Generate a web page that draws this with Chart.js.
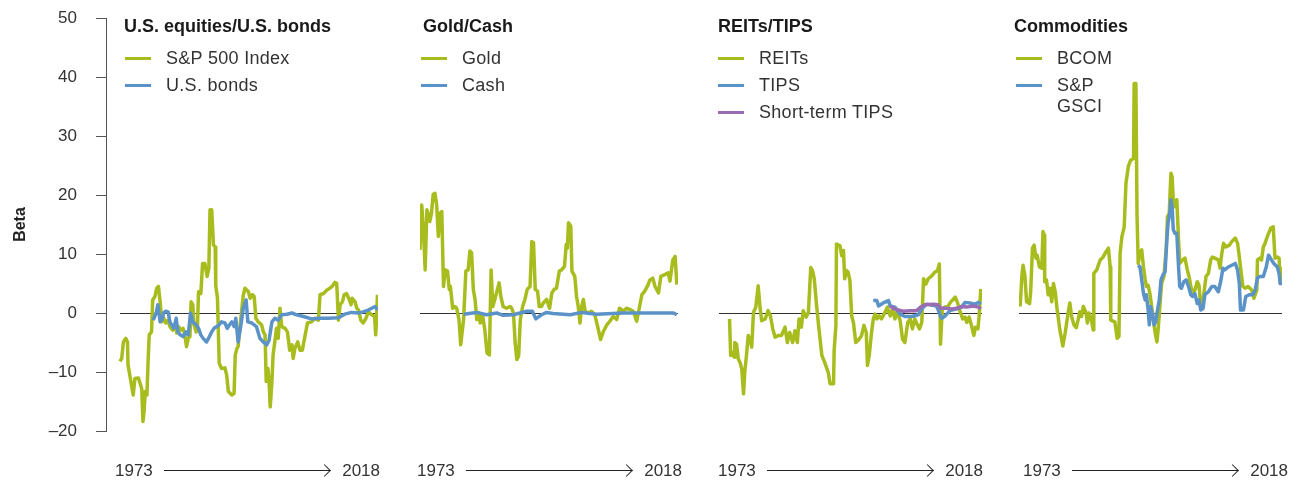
<!DOCTYPE html>
<html>
<head>
<meta charset="utf-8">
<script src="https://cdn.jsdelivr.net/npm/chart.js@4.4.0/dist/chart.umd.min.js"></script>
<style>
  body { margin: 0; width: 1299px; height: 480px; background: #fff; position: relative; overflow: hidden;
         font-family: "Liberation Sans", Arial, sans-serif; color: #333; }
  canvas { position: absolute; top: 0; }
  .title { position: absolute; top: 16px; font-size: 18px; line-height: 21px; font-weight: bold; color: #1a1a1a; }
  .legend { position: absolute; top: 48px; font-size: 18px; line-height: 21px; letter-spacing: 0.3px; }
  .legend-row { display: flex; align-items: flex-start; margin-bottom: 6px; }
  .swatch { width: 26px; height: 3px; margin-top: 9px; margin-right: 15px; flex: none; }
  .years { position: absolute; top: 460px; width: 265px; display: flex; align-items: center;
           font-size: 17px; line-height: 21px; color: #333; }
  .arrow { flex: 1; height: 1px; background: #222; position: relative; margin: 0 12px 0 11px; }
  .arrow::after { content: ""; position: absolute; right: 1px; top: -4px; width: 8px; height: 8px;
                  border-top: 1px solid #222; border-right: 1px solid #222; transform: rotate(45deg); }
</style>
</head>
<body>
<canvas id="c0"></canvas>
<canvas id="c1"></canvas>
<canvas id="c2"></canvas>
<canvas id="c3"></canvas>
<script>
// Axis extents
const yearStart = 1973;
const yearEnd = 2018;
const betaMin = -20;
const betaMax = 50;
const betaStep = 10;

const panelTitles = ["U.S. equities/U.S. bonds", "Gold/Cash", "REITs/TIPS", "Commodities"];

// [year, beta]
const sp500 = [[1973.0,-8.2],[1973.3,-7.7],[1973.6,-4.9],[1974.0,-4.3],[1974.3,-4.9],[1974.4,-8.8],[1974.9,-11.6],[1975.3,-13.9],[1975.6,-11.1],[1976.2,-11.0],[1976.6,-12.2],[1976.8,-12.9],[1977.0,-18.4],[1977.2,-16.7],[1977.4,-13.3],[1977.7,-13.9],[1977.9,-8.2],[1978.1,-3.7],[1978.5,-3.2],[1978.7,2.2],[1979.1,2.8],[1979.4,4.2],[1979.7,4.5],[1980.0,1.9],[1980.3,-1.5],[1980.6,-0.8],[1981.0,-1.7],[1981.4,-1.2],[1981.7,-2.3],[1982.2,-2.9],[1982.6,-2.0],[1982.9,-3.4],[1983.2,-2.3],[1983.6,-2.9],[1984.0,-2.6],[1984.3,-3.7],[1984.6,-5.7],[1984.9,-4.3],[1985.2,-4.0],[1985.4,1.9],[1985.7,1.4],[1985.9,-2.0],[1986.3,-3.2],[1986.5,-2.6],[1986.7,3.6],[1987.1,3.3],[1987.4,8.4],[1987.8,8.4],[1988.2,6.2],[1988.5,7.6],[1988.7,17.5],[1989.0,17.5],[1989.3,11.5],[1989.6,11.2],[1989.7,4.7],[1990.0,2.5],[1990.3,-8.5],[1990.7,-9.4],[1991.3,-9.3],[1991.6,-10.5],[1991.9,-13.3],[1992.2,-13.6],[1992.5,-13.9],[1992.9,-13.6],[1993.1,-7.1],[1993.4,-6.0],[1993.6,-5.7],[1993.9,-2.6],[1994.5,3.0],[1994.8,4.2],[1995.4,3.6],[1995.7,2.5],[1996.1,3.1],[1996.4,2.8],[1996.7,-0.9],[1997.1,-1.5],[1997.7,-2.0],[1998.0,-3.2],[1998.3,-3.7],[1998.5,-11.6],[1998.8,-9.4],[1999.0,-11.6],[1999.2,-15.9],[1999.5,-11.6],[1999.7,-7.1],[2000.0,-4.9],[2000.3,-2.6],[2000.6,-4.3],[2000.9,0.8],[2001.2,-2.3],[2001.8,-2.6],[2002.2,-3.2],[2002.6,-6.3],[2003.0,-5.4],[2003.2,-7.7],[2003.5,-6.0],[2004.0,-4.9],[2004.4,-6.3],[2004.8,-6.3],[2005.3,-3.7],[2005.7,-1.7],[2006.4,-1.5],[2007.0,-0.9],[2007.6,-1.2],[2007.9,3.1],[2008.5,3.3],[2009.1,3.9],[2009.6,4.2],[2010.0,4.5],[2010.5,5.2],[2010.8,5.0],[2011.1,-1.2],[2011.4,1.4],[2011.8,1.9],[2012.1,3.1],[2012.5,3.3],[2012.9,2.5],[2013.3,1.4],[2013.5,2.5],[2014.0,1.9],[2014.3,0.8],[2014.6,0.5],[2015.0,-1.2],[2015.4,-1.7],[2015.9,-0.9],[2016.3,0.2],[2016.9,-0.3],[2017.4,-0.6],[2017.6,-3.7],[2017.8,0.2],[2017.9,3.1]];

const usBonds = [[1978.8,-1.2],[1979.3,0],[1979.6,1.4],[1980.0,-1.5],[1980.3,-1.2],[1980.6,0],[1981.0,0.3],[1981.4,0.2],[1981.7,-1.5],[1982.2,-2.3],[1982.4,-2.6],[1982.8,-0.9],[1983.1,-3.2],[1983.5,-3.7],[1984.0,-4.0],[1984.5,-3.2],[1984.9,-3.7],[1985.3,0],[1985.7,-1.5],[1986.3,-2.0],[1986.7,-2.6],[1987.1,-3.7],[1987.5,-4.3],[1988.1,-4.9],[1988.6,-4.0],[1989.0,-3.2],[1989.4,-2.6],[1989.9,-2.3],[1990.3,-2.0],[1990.7,-1.5],[1991.3,-1.7],[1991.7,-2.6],[1992.1,-2.0],[1992.5,-1.5],[1992.9,-2.3],[1993.2,-0.9],[1993.6,-4.9],[1994.1,-2.0],[1994.5,0.8],[1995.0,2.2],[1995.3,-1.5],[1996.0,-1.7],[1996.8,-2.3],[1997.4,-4.3],[1998.0,-4.9],[1998.6,-5.4],[1999.0,-4.6],[1999.5,-1.5],[2000.0,-0.9],[2000.6,-1.2],[2001.2,-0.3],[2002.1,-0.2],[2003.0,0],[2003.8,-0.3],[2005.0,-0.6],[2006.4,-1.0],[2007.6,-0.9],[2009.3,-0.9],[2011.1,-0.8],[2012.2,-0.2],[2013.4,0.1],[2014.6,0],[2015.4,0.2],[2016.3,0.5],[2016.9,0.8],[2017.5,1.1],[2017.9,0.5]];

const gold = [[1973.0,10.7],[1973.3,18.3],[1973.6,14.1],[1973.9,7.3],[1974.2,17.5],[1974.5,16.6],[1974.7,15.5],[1975.0,16.9],[1975.3,20.1],[1975.6,20.3],[1975.9,18.4],[1976.2,13.0],[1976.5,16.9],[1976.8,17.2],[1977.1,4.5],[1977.4,7.3],[1977.8,7.1],[1978.1,4.0],[1978.3,4.5],[1978.7,0.8],[1979.1,1.1],[1979.4,0.8],[1979.8,-1.1],[1980.1,-5.4],[1980.6,-1.1],[1981.0,7.1],[1981.4,7.3],[1981.7,10.5],[1982.0,10.2],[1982.3,4.0],[1982.6,2.3],[1982.9,-1.1],[1983.2,0],[1983.5,-1.7],[1983.9,-0.3],[1984.3,-2.8],[1984.7,-6.8],[1985.1,-7.1],[1985.4,7.3],[1985.7,1.1],[1986.1,2.5],[1986.5,4.0],[1986.8,5.1],[1987.1,2.8],[1987.5,1.1],[1988.1,0.8],[1988.7,1.1],[1989.0,0.8],[1989.3,0],[1989.6,-5.1],[1989.9,-7.9],[1990.2,-7.3],[1990.5,-1.1],[1990.9,1.1],[1991.3,2.3],[1991.7,4.0],[1992.2,4.5],[1992.5,12.1],[1992.8,11.9],[1993.1,4.0],[1993.5,3.7],[1993.8,1.1],[1994.2,1.1],[1994.5,1.7],[1995.1,2.3],[1995.6,0.8],[1996.0,3.4],[1996.4,4.0],[1996.8,4.2],[1997.3,7.1],[1997.7,7.3],[1998.2,7.9],[1998.5,11.6],[1998.7,11.0],[1998.9,15.3],[1999.3,14.7],[1999.5,7.1],[2000.0,6.2],[2000.3,2.8],[2000.6,1.1],[2000.9,-1.7],[2001.2,1.1],[2001.5,2.3],[2001.8,0.3],[2002.3,0],[2002.9,0.3],[2003.5,-0.3],[2004.1,-2.8],[2004.5,-4.5],[2005.0,-3.1],[2005.6,-2.0],[2006.1,-1.4],[2006.7,-0.6],[2007.3,-1.1],[2007.8,0.8],[2008.5,0.3],[2009.0,0.8],[2009.6,0.6],[2010.2,0.3],[2010.8,-1.4],[2011.3,1.1],[2011.7,3.1],[2012.2,3.7],[2012.8,4.8],[2013.1,5.6],[2013.6,5.9],[2014.0,4.5],[2014.6,3.4],[2015.0,6.2],[2015.7,6.5],[2016.3,6.8],[2016.6,5.4],[2017.1,9.0],[2017.5,9.6],[2017.8,4.8]];

const cash = [[1980.6,-0.2],[1982.9,0.1],[1984.6,-0.3],[1986.4,0],[1987.5,-0.4],[1989.3,-0.3],[1991.6,0.3],[1992.6,0.3],[1993.2,-1.0],[1994.2,-0.3],[1995.1,0.1],[1996.2,-0.1],[1999.2,-0.3],[2001.2,0.1],[2003.8,-0.2],[2008.5,0],[2012.0,0],[2017.2,0],[2017.8,-0.3]];

const reits = [[1974.8,-1.0],[1975.0,-7.2],[1975.3,-6.7],[1975.6,-7.5],[1975.7,-5.0],[1976.0,-5.3],[1976.3,-7.8],[1976.6,-8.4],[1976.9,-9.5],[1977.2,-13.7],[1977.4,-10.1],[1977.7,-7.2],[1978.0,-3.8],[1978.3,-4.4],[1978.6,-5.8],[1978.9,0.1],[1979.3,1.0],[1979.7,4.6],[1980.0,1.2],[1980.3,-1.3],[1980.9,-1.0],[1981.4,0.4],[1981.8,-0.5],[1982.2,-2.7],[1982.6,-4.1],[1983.2,-3.8],[1983.7,-3.8],[1984.3,-2.4],[1984.7,-5.0],[1985.1,-3.3],[1985.6,-5.0],[1986.0,-3.0],[1986.4,-5.0],[1986.7,-1.0],[1987.1,-2.4],[1987.4,0.4],[1987.9,-0.7],[1988.3,0.1],[1988.7,7.7],[1989.0,7.2],[1989.3,5.8],[1989.7,1.2],[1990.1,-2.7],[1990.6,-7.2],[1991.1,-8.4],[1991.7,-10.1],[1992.0,-12.0],[1992.6,-12.0],[1992.7,-6.4],[1993.0,-2.1],[1993.1,11.7],[1993.7,11.4],[1994.0,9.7],[1994.3,10.6],[1994.5,5.8],[1994.8,7.2],[1995.1,6.9],[1995.4,5.5],[1995.7,-0.5],[1996.0,-1.6],[1996.4,-5.0],[1997.0,-4.4],[1997.4,-3.8],[1997.8,-2.1],[1998.2,-3.3],[1998.4,-8.9],[1998.7,-7.2],[1999.1,-3.3],[1999.4,-1.0],[1999.7,-0.2],[2000.0,-1.0],[2000.4,-0.5],[2000.8,-1.0],[2001.4,0.1],[2001.8,1.0],[2002.3,-0.5],[2002.7,0.7],[2003.1,-1.0],[2003.5,0.4],[2004.0,-1.3],[2004.4,-4.4],[2004.8,-5.0],[2005.3,-1.6],[2005.7,-1.0],[2006.1,-2.7],[2006.5,-1.0],[2006.9,-1.9],[2007.3,-2.7],[2007.7,-1.6],[2008.0,5.8],[2008.4,4.9],[2008.8,5.8],[2009.4,6.3],[2009.9,6.9],[2010.4,7.2],[2010.7,8.3],[2010.9,-5.3],[2011.2,0.7],[2011.6,1.0],[2012.1,1.0],[2012.6,1.8],[2013.4,2.7],[2013.8,1.8],[2014.2,0.4],[2014.7,-1.0],[2015.1,-0.7],[2015.4,-1.6],[2015.8,-0.7],[2016.2,-2.1],[2016.6,-3.8],[2016.9,-2.4],[2017.3,-2.7],[2017.5,-0.7],[2017.8,4.1]];

const tips = [[1999.4,2.1],[2000.0,2.1],[2000.3,1.2],[2001.1,1.7],[2002.0,2.1],[2002.3,1.2],[2003.1,1.0],[2004.0,-0.2],[2004.8,-0.6],[2006.0,-0.6],[2007.1,-0.3],[2007.7,0.7],[2008.5,1.5],[2010.2,1.2],[2010.8,-0.2],[2011.1,-0.9],[2011.7,-0.5],[2012.5,0.4],[2013.7,0.7],[2014.5,1.0],[2015.1,1.8],[2015.9,1.7],[2016.8,1.5],[2017.4,1.8],[2017.8,1.5]];

const shortTips = [[2002.3,1.2],[2002.8,0.8],[2003.7,0.5],[2004.5,0.3],[2005.7,0.4],[2006.8,0.4],[2007.5,1.0],[2008.2,1.4],[2009.7,1.5],[2010.5,1.4],[2010.9,0.8],[2011.9,0.8],[2012.8,0.7],[2013.7,0.8],[2014.5,1.1],[2015.4,1.0],[2016.5,1.2],[2017.4,1.0],[2017.8,0.7]];

const bcom = [[1973.2,1.1],[1973.5,6.4],[1973.7,8.1],[1974.0,6.4],[1974.3,1.9],[1974.8,1.6],[1975.0,3.6],[1975.3,11.0],[1975.6,11.5],[1975.9,9.3],[1976.1,9.8],[1976.5,7.8],[1976.9,7.6],[1977.1,13.8],[1977.3,13.2],[1977.4,5.3],[1977.7,5.6],[1978.0,3.1],[1978.3,4.2],[1978.6,1.9],[1978.9,5.0],[1979.2,3.6],[1979.5,0.8],[1980.0,-2.9],[1980.5,-5.6],[1980.9,-3.4],[1981.4,0],[1981.7,1.7],[1982.0,-0.6],[1982.4,-2.0],[1982.8,-2.5],[1983.1,-1.2],[1983.4,0.2],[1983.7,-0.6],[1984.0,1.1],[1984.5,0],[1984.7,-1.7],[1985.0,0],[1985.4,-1.2],[1985.7,-2.9],[1985.8,6.7],[1986.3,7.3],[1986.9,9.0],[1987.4,9.5],[1987.9,10.4],[1988.3,11.0],[1988.6,7.8],[1988.7,-1.2],[1989.4,-1.5],[1989.8,-4.3],[1990.1,-4.0],[1990.3,10.1],[1990.6,12.9],[1991.0,14.6],[1991.3,22.0],[1991.7,24.8],[1992.1,25.9],[1992.6,26.2],[1992.7,38.9],[1993.0,38.9],[1993.2,16.3],[1993.4,8.4],[1993.7,10.1],[1994.0,10.7],[1994.3,7.8],[1994.6,5.6],[1994.8,4.5],[1995.1,4.7],[1995.4,3.3],[1995.7,1.1],[1996.0,-1.2],[1996.3,-3.4],[1996.6,-4.9],[1996.8,-2.9],[1997.1,1.1],[1997.4,5.0],[1997.8,6.2],[1998.2,11.2],[1998.4,16.3],[1998.7,16.9],[1999.0,23.7],[1999.2,23.1],[1999.4,19.2],[1999.7,18.0],[2000.0,19.2],[2000.3,12.4],[2000.5,8.4],[2001.0,9.0],[2001.4,9.3],[2001.8,7.3],[2002.1,6.2],[2002.4,4.5],[2002.7,3.3],[2003.1,3.9],[2003.5,5.3],[2003.8,4.7],[2004.1,1.1],[2004.5,2.2],[2005.0,6.2],[2005.4,6.7],[2005.8,9.0],[2006.1,9.5],[2006.5,9.3],[2007.1,9.0],[2007.4,7.6],[2007.7,10.1],[2008.0,11.8],[2008.4,11.2],[2009.0,11.5],[2009.4,12.1],[2010.0,12.7],[2010.4,11.8],[2010.7,9.5],[2010.9,7.8],[2011.3,4.5],[2011.7,4.2],[2012.2,4.5],[2012.8,3.9],[2013.2,2.5],[2013.7,3.9],[2013.8,9.0],[2014.2,9.3],[2014.5,9.0],[2014.8,11.2],[2015.1,11.8],[2015.4,12.7],[2015.7,13.5],[2016.1,14.4],[2016.5,14.6],[2016.8,9.3],[2017.2,9.5],[2017.5,9.3],[2017.7,5.0],[2017.9,7.8]];

const gsci = [[1993.4,8.1],[1993.7,7.8],[1994.0,5.6],[1994.3,3.3],[1994.6,2.2],[1994.8,3.1],[1995.1,0.5],[1995.3,-2.0],[1995.5,1.1],[1995.9,-0.6],[1996.1,-2.0],[1996.4,-1.5],[1996.7,0.5],[1997.0,2.2],[1997.3,5.6],[1997.6,6.4],[1998.0,7.0],[1998.3,12.4],[1998.5,15.2],[1998.8,16.9],[1999.0,19.2],[1999.2,18.0],[1999.4,14.1],[1999.7,13.5],[2000.0,13.5],[2000.3,7.8],[2000.5,4.5],[2000.8,4.2],[2001.2,5.3],[2001.6,5.6],[2002.0,4.5],[2002.4,3.1],[2002.7,2.8],[2003.1,3.3],[2003.5,1.6],[2003.8,2.2],[2004.1,0.5],[2004.5,0.8],[2004.8,3.1],[2005.4,3.6],[2006.0,4.5],[2006.5,4.5],[2007.1,3.6],[2007.5,5.3],[2007.9,7.6],[2008.2,7.3],[2008.8,7.8],[2009.4,8.1],[2010.0,8.4],[2010.4,7.3],[2010.7,5.0],[2010.9,0.5],[2011.4,0.5],[2011.8,2.8],[2012.4,3.1],[2013.0,3.1],[2013.4,3.9],[2013.8,5.9],[2014.2,6.2],[2014.8,6.2],[2015.3,7.8],[2015.7,9.8],[2016.2,9.0],[2016.6,8.4],[2017.2,7.8],[2017.5,6.7],[2017.7,5.0],[2018.0,5.0]];

const GREEN = "#a9bc1e";
const BLUE = "#5b93c8";
const PURPLE = "#9a6cb4";

const panels = [
    { title: panelTitles[0], series: [
        { label: "S&P 500 Index", data: sp500, color: GREEN, order: 2 },
        { label: "U.S. bonds", data: usBonds, color: BLUE, order: 1 } ] },
    { title: panelTitles[1], series: [
        { label: "Gold", data: gold, color: GREEN, order: 2 },
        { label: "Cash", data: cash, color: BLUE, order: 1 } ] },
    { title: panelTitles[2], series: [
        { label: "REITs", data: reits, color: GREEN, order: 2 },
        { label: "TIPS", data: tips, color: BLUE, order: 1 },
        { label: "Short-term TIPS", data: shortTips, color: PURPLE, order: 0 } ] },
    { title: panelTitles[3], series: [
        { label: "BCOM", data: bcom, color: GREEN, order: 2 },
        { label: "S&P GSCI", data: gsci, color: BLUE, order: 1 } ] }
];

// pixel layout of each panel (plot span, title, legend, year strip)
const layout = [
    { plotLeft: 120, plotRight: 378, titleLeft: 124, legendLeft: 125, yearsLeft: 115 },
    { plotLeft: 420, plotRight: 678, titleLeft: 423, legendLeft: 421, yearsLeft: 417 },
    { plotLeft: 719, plotRight: 982, titleLeft: 718, legendLeft: 718, yearsLeft: 718 },
    { plotLeft: 1019, plotRight: 1282, titleLeft: 1014, legendLeft: 1016, yearsLeft: 1023, legendTextWidth: 60 }
];
const AXIS_WIDTH = 106;   // first panel carries the Beta axis
const PLOT_TOP = 18;
const PLOT_BOTTOM = 431;
const SIDE_PAD = 4;

// zero reference line across each panel's years
const zeroLine = {
    id: "zeroLine",
    beforeDatasetsDraw(chart) {
        const { ctx, scales: { x, y } } = chart;
        const yy = Math.round(y.getPixelForValue(0)) + 0.5;
        ctx.save();
        ctx.strokeStyle = "#333";
        ctx.lineWidth = 1;
        ctx.beginPath();
        ctx.moveTo(x.getPixelForValue(yearStart), yy);
        ctx.lineTo(x.getPixelForValue(yearEnd), yy);
        ctx.stroke();
        ctx.restore();
    }
};

function addDiv(cls, left, html) {
    const el = document.createElement("div");
    el.className = cls;
    el.style.left = left + "px";
    if (html !== undefined) el.innerHTML = html;
    document.body.appendChild(el);
    return el;
}

panels.forEach((panel, i) => {
    const L = layout[i];
    const withAxis = i === 0;
    const canvasLeft = withAxis ? 0 : L.plotLeft - SIDE_PAD;
    const canvasRight = L.plotRight + SIDE_PAD;
    const areaLeft = withAxis ? AXIS_WIDTH : L.plotLeft;
    const perPx = (yearEnd - yearStart) / (L.plotRight - L.plotLeft);

    const canvas = document.getElementById("c" + i);
    canvas.width = canvasRight - canvasLeft;
    canvas.height = 480;
    canvas.style.left = canvasLeft + "px";

    new Chart(canvas, {
        type: "line",
        data: {
            datasets: panel.series.map(s => ({
                label: s.label,
                data: s.data.map(([x, y]) => ({ x, y })),
                borderColor: s.color,
                backgroundColor: s.color,
                borderWidth: 3.5,
                borderJoinStyle: "round",
                pointRadius: 0,
                tension: 0,
                fill: false,
                order: s.order
            }))
        },
        options: {
            responsive: false,
            devicePixelRatio: 1,
            animation: false,
            events: [],
            layout: { padding: { top: PLOT_TOP, bottom: 480 - PLOT_BOTTOM, left: withAxis ? 0 : SIDE_PAD, right: SIDE_PAD } },
            plugins: { legend: { display: false }, tooltip: { enabled: false } },
            scales: {
                x: {
                    type: "linear",
                    display: false,
                    min: yearStart - (L.plotLeft - areaLeft) * perPx,
                    max: yearEnd
                },
                y: {
                    display: withAxis,
                    min: betaMin,
                    max: betaMax,
                    afterFit: scale => {
                        if (!withAxis) return;
                        scale.width = AXIS_WIDTH;
                        scale.paddingTop = 0;
                        scale.paddingBottom = 0;
                    },
                    border: { display: true, color: "#555", width: 1 },
                    grid: { drawOnChartArea: false, drawTicks: true, tickLength: 10, color: "#555" },
                    ticks: {
                        stepSize: betaStep,
                        padding: 19,
                        color: "#333",
                        font: { family: "Liberation Sans", size: 17 },
                        callback: v => String(v).replace("-", "\u2013")
                    },
                    title: {
                        display: true,
                        text: "Beta",
                        color: "#222",
                        font: { family: "Liberation Sans", size: 16, weight: "bold" },
                        padding: { top: 11, bottom: 0 }
                    }
                }
            }
        },
        plugins: [zeroLine]
    });

    // title and legend
    addDiv("title", L.titleLeft, panel.title);
    const legend = addDiv("legend", L.legendLeft);
    panel.series.forEach(s => {
        const row = document.createElement("div");
        row.className = "legend-row";
        const sw = document.createElement("div");
        sw.className = "swatch";
        sw.style.background = s.color;
        const txt = document.createElement("div");
        txt.textContent = s.label;
        if (L.legendTextWidth) txt.style.width = L.legendTextWidth + "px";
        row.appendChild(sw);
        row.appendChild(txt);
        legend.appendChild(row);
    });

    // 1973 ----> 2018
    addDiv("years", L.yearsLeft, `<span>${yearStart}</span><div class="arrow"></div><span>${yearEnd}</span>`);
});
</script>
</body>
</html>
